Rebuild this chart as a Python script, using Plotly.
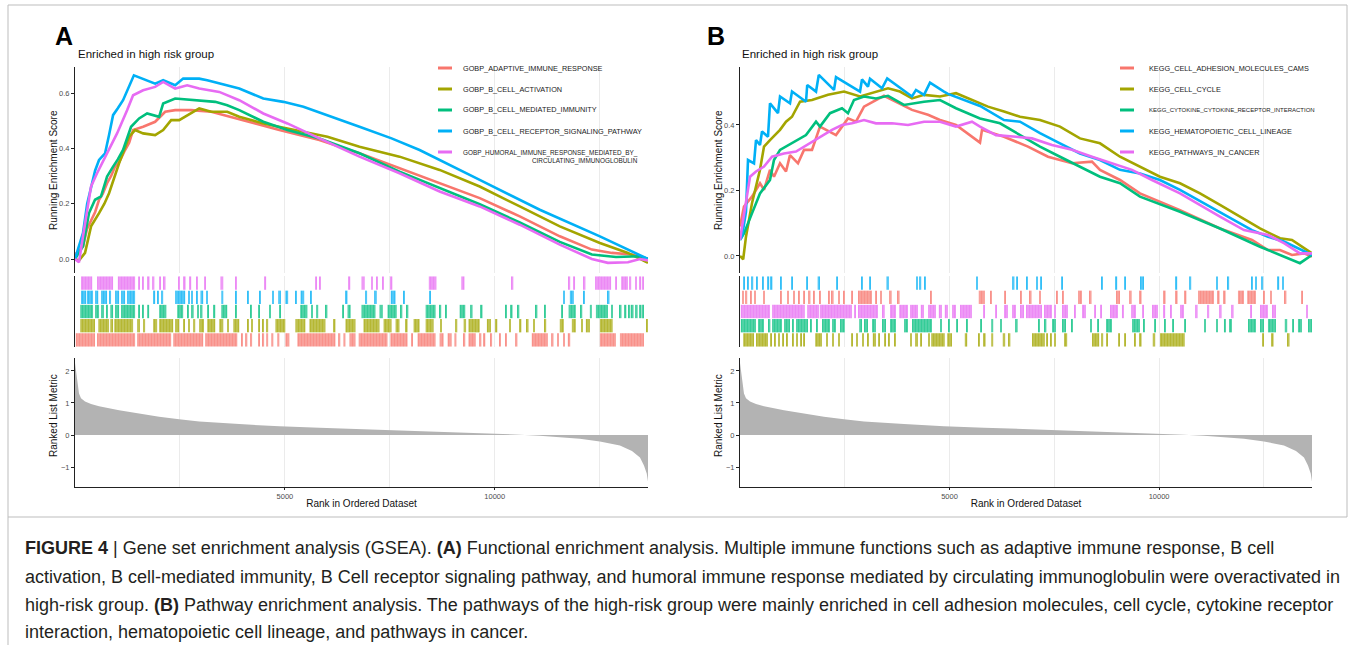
import plotly.graph_objects as go

W, H = 1355, 645

# ---------------- data ----------------
N_GENES = 13650
x_tick_vals = [5000, 10000]
x_minor_vals = [2500, 7500, 12500]

metric_rank = [0, 48, 95, 143, 239, 382, 573, 1050, 1527, 2004, 2482, 2959, 3913, 4868, 5822,
               6777, 7731, 8686, 9641, 10595, 11072, 11549, 12027, 12504, 12981, 13268, 13459,
               13554, 13620, 13650]
metric_value = [2.25, 1.7, 1.3, 1.15, 1.05, 0.97, 0.9, 0.77, 0.66, 0.57, 0.49, 0.42, 0.34, 0.27,
                0.23, 0.19, 0.15, 0.10, 0.06, 0.01, -0.02, -0.06, -0.12, -0.2, -0.33, -0.5, -0.7,
                -0.95, -1.2, -1.45]

# ---- panel A: GO biological process sets ----
a_names = ["GOBP_ADAPTIVE_IMMUNE_RESPONSE", "GOBP_B_CELL_ACTIVATION",
           "GOBP_B_CELL_MEDIATED_IMMUNITY", "GOBP_B_CELL_RECEPTOR_SIGNALING_PATHWAY",
           "GOBP_HUMORAL_IMMUNE_RESPONSE_MEDIATED_BY_CIRCULATING_IMMUNOGLOBULIN"]

a_adaptive_rank = [0, 191, 290, 382, 480, 573, 660, 764, 860, 955, 1050, 1193, 1290, 1384, 1623,
                   1909, 2148, 2386, 2768, 3245, 3723, 4295, 4868, 5345, 5822, 6777, 7731, 8686,
                   9641, 10595, 11549, 12313, 12790, 13268, 13650]
a_adaptive_es = [0.016, 0.046, 0.11, 0.142, 0.17, 0.214, 0.235, 0.274, 0.3, 0.334, 0.35, 0.394,
                 0.42, 0.466, 0.478, 0.496, 0.532, 0.538, 0.538, 0.532, 0.514, 0.49, 0.466, 0.448,
                 0.43, 0.382, 0.328, 0.272, 0.22, 0.154, 0.082, 0.034, 0.022, 0.016, 0.0]

a_activation_rank = [0, 95, 239, 382, 573, 700, 811, 930, 1050, 1289, 1432, 1623, 1909, 2100, 2291,
                     2482, 2673, 2959, 3245, 3627, 3913, 4486, 5059, 5632, 6013, 6777, 7731, 8686,
                     9641, 10595, 11549, 12504, 13172, 13650]
a_activation_es = [0.0, -0.005, 0.022, 0.118, 0.166, 0.2, 0.238, 0.29, 0.346, 0.442, 0.466, 0.454,
                   0.448, 0.466, 0.502, 0.502, 0.52, 0.544, 0.532, 0.532, 0.514, 0.49, 0.472, 0.454,
                   0.442, 0.406, 0.37, 0.322, 0.262, 0.19, 0.118, 0.058, 0.022, -0.014]

a_mediated_rank = [0, 191, 334, 477, 620, 764, 907, 1020, 1145, 1336, 1527, 1718, 2004, 2100, 2386,
                   2673, 2959, 3341, 3627, 3913, 4486, 5059, 5822, 6777, 7731, 8686, 9641, 10595,
                   11549, 12313, 12886, 13459, 13650]
a_mediated_es = [0.0, 0.046, 0.166, 0.214, 0.226, 0.298, 0.334, 0.36, 0.394, 0.478, 0.508, 0.526,
                 0.514, 0.562, 0.58, 0.576, 0.574, 0.568, 0.556, 0.538, 0.496, 0.466, 0.436, 0.382,
                 0.316, 0.256, 0.198, 0.132, 0.062, 0.016, 0.007, 0.01, 0.0]

a_bcr_rank = [0, 191, 290, 382, 480, 573, 716, 811, 907, 1020, 1145, 1403, 1909, 2100, 2386, 2577,
              2959, 3150, 3484, 3913, 4486, 4963, 5441, 6013, 6777, 7541, 8209, 9641, 11072, 12504,
              13459, 13650]
a_bcr_es = [0.0, 0.094, 0.2, 0.262, 0.32, 0.358, 0.382, 0.448, 0.52, 0.545, 0.574, 0.664, 0.634,
            0.646, 0.628, 0.652, 0.652, 0.646, 0.634, 0.616, 0.58, 0.568, 0.55, 0.52, 0.478, 0.436,
            0.394, 0.286, 0.178, 0.082, 0.016, 0.0]

a_humoral_rank = [0, 95, 191, 382, 525, 764, 1002, 1241, 1384, 1623, 1909, 2100, 2386, 2673, 2959,
                  3436, 3913, 4486, 5059, 5822, 6777, 7731, 8686, 9641, 10595, 11549, 12313, 12695,
                  13172, 13459, 13650]
a_humoral_es = [0.0, -0.012, 0.082, 0.262, 0.31, 0.382, 0.454, 0.538, 0.592, 0.61, 0.622, 0.64,
                0.616, 0.628, 0.616, 0.604, 0.574, 0.526, 0.49, 0.436, 0.37, 0.31, 0.244, 0.19,
                0.124, 0.052, 0.0, -0.014, -0.012, 0.0, -0.005]

# hit positions (rank intervals) for each gene set, panel A
a_humoral_hits = [(143, 410), (525, 907), (1021, 1432), (1508, 1546), (1604, 1642), (1737, 1775),
                  (1852, 1890), (2004, 2043), (2119, 2157), (2463, 2501), (2596, 2634), (2739, 2768),
                  (2892, 2921), (3073, 3102), (3465, 3532), (3828, 3856), (4524, 4553), (5727, 5756),
                  (5822, 5851), (6519, 6557), (6825, 6901), (7054, 7092), (7178, 7216), (7321, 7350),
                  (7521, 7560), (8428, 8610), (9201, 9278), (10404, 10442), (11759, 11797),
                  (11874, 11912), (12122, 12160), (12389, 12771), (12867, 12905), (13010, 13172),
                  (13220, 13249), (13344, 13382), (13459, 13488), (13516, 13554)]
a_bcr_hits = [(143, 267), (286, 430), (477, 554), (620, 764), (811, 859), (955, 1050), (1098, 1193),
              (1241, 1432), (1880, 1909), (1957, 1985), (2071, 2100), (2386, 2625), (2692, 2739),
              (2768, 2806), (2883, 2930), (2988, 3054), (3131, 3159), (3484, 3532), (3818, 3856),
              (4104, 4133), (4391, 4419), (4696, 4734), (4839, 4906), (5011, 5078), (5250, 5278),
              (5374, 5460), (5603, 5641), (6452, 6491), (6930, 6958), (7140, 7187), (7522, 7636),
              (7827, 7855), (8447, 8476), (11645, 11673), (11788, 11884), (12103, 12141), (12695, 12733)]
a_mediated_hits = [(124, 430), (477, 573), (620, 687), (745, 783), (840, 907), (955, 1050),
                   (1098, 1432), (1508, 1546), (1604, 1642), (1718, 1766), (2004, 2176), (2434, 2577),
                   (2673, 2711), (2787, 2825), (2911, 2949), (2997, 3035), (3150, 3188), (3303, 3341),
                   (3484, 3627), (3818, 3856), (4171, 4200), (4372, 4400), (4629, 4667), (4868, 4906),
                   (5364, 5536), (5632, 5670), (5746, 5794), (5966, 6013), (6367, 6405), (6491, 6567),
                   (6825, 7159), (7254, 7331), (7445, 7665), (7760, 7798), (7903, 7941), (8352, 8591),
                   (8686, 8724), (8829, 8858), (9163, 9297), (9430, 9469), (9669, 9707), (10261, 10290),
                   (10385, 10423), (10547, 10585), (10977, 11015), (11187, 11215), (11578, 11607),
                   (11759, 11931), (12046, 12084), (12265, 12313), (12409, 12695), (12771, 12809),
                   (12981, 13019), (13096, 13134), (13191, 13229), (13268, 13306), (13363, 13401),
                   (13459, 13497), (13525, 13554)]
a_activation_hits = [(124, 477), (554, 811), (840, 907), (935, 1384), (1479, 1546), (1642, 1670),
                     (1861, 1957), (2004, 2339), (2386, 2482), (2577, 2615), (2701, 2739), (2816, 2864),
                     (2959, 3073), (3150, 3341), (3436, 3532), (3627, 3665), (3770, 3913), (4104, 4133),
                     (4200, 4238), (4372, 4400), (4458, 4496), (4562, 4601), (4773, 5011), (5250, 5488),
                     (5584, 5966), (6157, 6204), (6443, 6682), (6872, 7254), (7350, 7541), (7636, 7731),
                     (7875, 7922), (8065, 8209), (8352, 8543), (8705, 8743), (9068, 9106), (9259, 9316),
                     (9373, 9641), (9812, 9908), (10022, 10060), (10356, 10385), (10595, 10633),
                     (10767, 10805), (10929, 10958), (11187, 11225), (11549, 11645), (11836, 11931),
                     (12055, 12094), (12170, 12265), (12504, 12809), (13610, 13650)]
a_adaptive_hits = [(19, 477), (525, 1432), (1479, 2291), (2339, 3054), (3102, 3866), (3961, 3990),
                   (4057, 4104), (4171, 4219), (4372, 4400), (4458, 4505), (4553, 4601), (4677, 4725),
                   (4820, 4868), (5011, 5107), (5297, 6204), (6281, 6319), (6395, 6443), (6538, 6682),
                   (6758, 7445), (7512, 7922), (8018, 8047), (8161, 8591), (8686, 8781), (8877, 8972),
                   (9039, 9087), (9259, 9297), (9373, 9545), (9641, 9679), (9736, 9774), (9908, 9936),
                   (10118, 10146), (10261, 10290), (10500, 10538), (10881, 11263), (11359, 11397),
                   (11502, 11530), (11645, 11673), (11740, 11797), (12504, 12886), (12981, 13554)]

# ---- panel B: KEGG pathways ----
b_names = ["KEGG_CELL_ADHESION_MOLECULES_CAMS", "KEGG_CELL_CYCLE",
           "KEGG_CYTOKINE_CYTOKINE_RECEPTOR_INTERACTION", "KEGG_HEMATOPOIETIC_CELL_LINEAGE",
           "KEGG_PATHWAYS_IN_CANCER"]

b_cams_rank = [0, 95, 286, 477, 573, 716, 811, 955, 1098, 1193, 1384, 1527, 1718, 1909, 2291, 2577,
               2768, 2959, 3245, 3436, 3723, 4104, 4486, 4773, 5154, 5727, 5775, 6300, 6872, 7350,
               7922, 8400, 8591, 9068, 9545, 10500, 11454, 12218, 12599, 12886, 13172, 13459, 13650]
b_cams_es = [0.09, 0.151, 0.181, 0.222, 0.202, 0.263, 0.242, 0.283, 0.258, 0.308, 0.283, 0.324,
             0.324, 0.395, 0.369, 0.42, 0.41, 0.456, 0.476, 0.489, 0.471, 0.446, 0.431, 0.415, 0.4,
             0.346, 0.385, 0.364, 0.334, 0.303, 0.283, 0.288, 0.263, 0.232, 0.191, 0.14, 0.084,
             0.049, 0.018, 0.018, 0.003, 0.008, -0.002]

b_cycle_rank = [0, 76, 143, 286, 477, 573, 716, 955, 1098, 1241, 1432, 1718, 2100, 2482, 2864, 3245,
                3532, 3818, 4104, 4391, 4773, 5154, 5536, 5918, 6300, 6682, 7159, 7636, 8113, 8591,
                9068, 9545, 10022, 10500, 10977, 11454, 11931, 12409, 12886, 13172, 13650]
b_cycle_es = [0.0, -0.01, 0.059, 0.161, 0.263, 0.334, 0.354, 0.385, 0.41, 0.425, 0.471, 0.476,
              0.492, 0.502, 0.487, 0.502, 0.512, 0.502, 0.481, 0.492, 0.487, 0.497, 0.476, 0.456,
              0.441, 0.425, 0.415, 0.395, 0.359, 0.344, 0.303, 0.273, 0.242, 0.222, 0.191, 0.156,
              0.12, 0.084, 0.054, 0.049, 0.008]

b_cytokine_rank = [0, 95, 286, 477, 716, 811, 955, 1241, 1575, 1814, 1909, 2148, 2434, 2577, 2720,
                   2959, 3245, 3532, 3913, 4391, 4773, 5154, 5727, 6204, 6682, 7159, 7636, 8113,
                   8591, 9068, 9545, 10500, 11454, 12409, 12790, 13172, 13363, 13650]
b_cytokine_es = [0.049, 0.069, 0.13, 0.191, 0.232, 0.293, 0.324, 0.344, 0.369, 0.41, 0.395, 0.436,
                 0.451, 0.436, 0.476, 0.487, 0.481, 0.489, 0.461, 0.471, 0.476, 0.451, 0.42, 0.405,
                 0.369, 0.334, 0.303, 0.273, 0.242, 0.222, 0.181, 0.135, 0.084, 0.028, 0.008,
                 -0.012, -0.022, 0.003]

b_hemato_rank = [0, 48, 143, 191, 334, 382, 477, 525, 668, 716, 907, 955, 1193, 1241, 1575, 1604,
                 1814, 1880, 2243, 2291, 2864, 2911, 3054, 3102, 3389, 3513, 4104, 4200, 4391, 4534,
                 4868, 4963, 5727, 6300, 6682, 7159, 7636, 8113, 8591, 9068, 9545, 10022, 10500,
                 11454, 12218, 12599, 12981, 13650]
b_hemato_es = [0.049, 0.059, 0.135, 0.293, 0.283, 0.354, 0.339, 0.38, 0.364, 0.466, 0.436, 0.487,
               0.466, 0.502, 0.471, 0.522, 0.502, 0.553, 0.507, 0.546, 0.502, 0.539, 0.517, 0.541,
               0.512, 0.542, 0.487, 0.507, 0.492, 0.529, 0.502, 0.495, 0.458, 0.415, 0.41, 0.375,
               0.344, 0.313, 0.293, 0.263, 0.252, 0.232, 0.202, 0.135, 0.079, 0.059, 0.044, 0.003]

b_cancer_rank = [0, 95, 239, 382, 573, 764, 1050, 1336, 1527, 1718, 1909, 2195, 2434, 2673, 2959,
                 3245, 3627, 4009, 4391, 4773, 5154, 5536, 5727, 6109, 6586, 6968, 7445, 7922, 8400,
                 8877, 9354, 9832, 10500, 11454, 12027, 12599, 12981, 13363, 13650]
b_cancer_es = [0.049, 0.13, 0.242, 0.258, 0.273, 0.303, 0.313, 0.319, 0.334, 0.349, 0.364, 0.385,
               0.4, 0.405, 0.415, 0.405, 0.405, 0.4, 0.41, 0.41, 0.395, 0.41, 0.395, 0.369, 0.364,
               0.359, 0.339, 0.324, 0.303, 0.283, 0.263, 0.232, 0.191, 0.12, 0.079, 0.064, 0.039,
               0.008, 0.008]

b_hemato_hits = [(76, 115), (172, 210), (286, 315), (382, 410), (525, 554), (668, 697), (735, 773),
                 (955, 983), (1222, 1250), (1584, 1623), (1852, 1909), (2291, 2319), (2892, 2930),
                 (3083, 3112), (3494, 3551), (4219, 4248), (4295, 4324), (4391, 4419), (5651, 5679),
                 (6510, 6548), (6605, 6634), (6825, 6853), (7083, 7111), (7159, 7187), (7665, 7693),
                 (8619, 8648), (8972, 9001), (9182, 9211), (9545, 9641), (10404, 10433), (10738, 10767),
                 (11359, 11387), (11645, 11673), (12199, 12237), (12294, 12332), (12456, 12485),
                 (12838, 12867), (12934, 12963)]
b_cams_hits = [(48, 95), (143, 172), (239, 267), (334, 382), (554, 592), (955, 1002), (1126, 1164),
               (1270, 1308), (1384, 1422), (1508, 1546), (1642, 1680), (1747, 1785), (1890, 1928),
               (2100, 2138), (2195, 2234), (2339, 2377), (2463, 2501), (2654, 2692), (2816, 3150),
               (3226, 3264), (3341, 3379), (3579, 3618), (3770, 3809), (4534, 4572), (5698, 5842),
               (5966, 5994), (6319, 6347), (6682, 6720), (6920, 6958), (7140, 7178), (7541, 7579),
               (7684, 7722), (8066, 8161), (8352, 8390), (8972, 9068), (9306, 9345), (9545, 9583),
               (10118, 10156), (10404, 10442), (10614, 10652), (10929, 11311), (11406, 11444),
               (11549, 11588), (11883, 12027), (12103, 12313), (12485, 12523), (12647, 12695),
               (13001, 13039), (13392, 13430)]
b_cancer_hits = [(19, 716), (764, 1546), (1604, 1890), (1909, 2673), (2720, 2768), (2816, 3293),
                 (3389, 3455), (3579, 3723), (3799, 4009), (4057, 4248), (4314, 4391), (4486, 4677),
                 (4744, 4820), (4887, 4963), (5059, 5154), (5250, 5536), (5803, 5842), (6090, 6128),
                 (6300, 6395), (6491, 6586), (6682, 6777), (6825, 7207), (7254, 7445), (7493, 7541),
                 (7684, 7827), (7970, 8018), (8161, 8256), (8447, 8495), (8591, 8619), (8829, 9020),
                 (9115, 9163), (9335, 9450), (9593, 9641), (9832, 9975), (10099, 10146), (10261, 10309),
                 (10500, 10595), (10881, 10919), (11168, 11196), (11454, 11492), (11740, 11778),
                 (12170, 12218), (12409, 12599), (12695, 12790), (13506, 13554)]
b_cytokine_hits = [(19, 382), (430, 573), (668, 725), (764, 1002), (1050, 1193), (1241, 1289),
                   (1336, 1623), (1670, 1718), (1814, 1861), (1957, 2148), (2195, 2291), (2386, 2501),
                   (2844, 2911), (2959, 3054), (3150, 3245), (3389, 3484), (3579, 3723), (3913, 4009),
                   (4104, 4582), (4773, 4820), (4963, 5011), (5154, 5202), (5393, 5441), (5727, 5775),
                   (5994, 6042), (6204, 6252), (6586, 6624), (7111, 7159), (7273, 7311), (7445, 7541),
                   (7684, 7779), (7903, 7941), (8352, 8400), (8524, 8562), (8734, 8877), (9354, 9545),
                   (9621, 9659), (9879, 9927), (10118, 10166), (10309, 10356), (10595, 10643),
                   (11072, 11120), (11359, 11387), (11549, 11597), (11693, 11740), (12122, 12313),
                   (12409, 12504), (12599, 12790), (13001, 13058), (13172, 13220), (13315, 13411),
                   (13554, 13650)]
b_cycle_hits = [(76, 334), (382, 668), (716, 764), (811, 859), (907, 955), (1021, 1050), (1098, 1126),
                (1241, 1270), (1336, 1384), (1432, 1470), (1508, 1546), (1794, 1957), (2052, 2100),
                (2195, 2243), (2339, 2386), (2654, 2682), (2768, 2816), (2911, 2959), (3035, 3073),
                (3169, 3245), (3293, 3341), (3455, 3484), (3532, 3579), (3675, 3704), (4057, 4104),
                (4181, 4248), (4295, 4343), (4486, 4534), (4562, 4887), (4944, 5059), (5364, 5422),
                (5679, 5727), (5822, 5861), (5994, 6042), (6271, 6328), (6414, 6452), (6968, 7273),
                (7311, 7350), (7397, 7445), (7493, 7541), (7732, 7808), (8400, 8572), (8619, 8667),
                (8734, 8781), (9020, 9068), (9182, 9211), (9402, 9450), (9545, 9583), (9850, 9908),
                (10022, 10614), (12456, 12504), (12695, 12733), (13077, 13115)]

caption_lines = [
    "<b>FIGURE 4</b> | Gene set enrichment analysis (GSEA). <b>(A)</b> Functional enrichment analysis. "
    "Multiple immune functions such as adaptive immune response, B cell",
    "activation, B cell-mediated immunity, B Cell receptor signaling pathway, and humoral immune "
    "response mediated by circulating immunoglobulin were overactivated in",
    "high-risk group. <b>(B)</b> Pathway enrichment analysis. The pathways of the high-risk group were "
    "mainly enriched in cell adhesion molecules, cell cycle, cytokine receptor",
    "interaction, hematopoietic cell lineage, and pathways in cancer.",
]

# ---------------- styles ----------------
RED, OLIVE, GREEN, BLUE, PINK = "#F8766D", "#A3A500", "#00BF7D", "#00B0F6", "#E76BF3"
FONT = "Liberation Sans, Arial, Helvetica, sans-serif"
GRID = "#ebebeb"
AXIS = "#222222"
TICKC = "#4d4d4d"


def X(p):
    return p / W


def Y(p):
    return 1 - p / H


def tint(hexc, f=0.4):
    r, g, b = int(hexc[1:3], 16), int(hexc[3:5], 16), int(hexc[5:7], 16)
    r, g, b = [int(c + (255 - c) * f) for c in (r, g, b)]
    return f"rgb({r},{g},{b})"


fig = go.Figure()

panels = [
    dict(ax=("x", "y"), rug=("x2", "y2"), met=("x3", "y3"),
         curves=[(a_adaptive_rank, a_adaptive_es, RED), (a_activation_rank, a_activation_es, OLIVE),
                 (a_mediated_rank, a_mediated_es, GREEN), (a_bcr_rank, a_bcr_es, BLUE),
                 (a_humoral_rank, a_humoral_es, PINK)],
         rows=[(a_humoral_hits, PINK), (a_bcr_hits, BLUE), (a_mediated_hits, GREEN),
               (a_activation_hits, OLIVE), (a_adaptive_hits, RED)]),
    dict(ax=("x4", "y4"), rug=("x5", "y5"), met=("x6", "y6"),
         curves=[(b_cams_rank, b_cams_es, RED), (b_cycle_rank, b_cycle_es, OLIVE),
                 (b_cytokine_rank, b_cytokine_es, GREEN), (b_hemato_rank, b_hemato_es, BLUE),
                 (b_cancer_rank, b_cancer_es, PINK)],
         rows=[(b_hemato_hits, BLUE), (b_cams_hits, RED), (b_cancer_hits, PINK),
               (b_cytokine_hits, GREEN), (b_cycle_hits, OLIVE)]),
]

for p in panels:
    for xs, ys, c in p["curves"]:
        fig.add_trace(go.Scatter(x=xs, y=ys, mode="lines", line=dict(color=c, width=2.6),
                                 xaxis=p["ax"][0], yaxis=p["ax"][1], showlegend=False,
                                 hoverinfo="skip"))
    for i, (hits, c) in enumerate(p["rows"]):
        fig.add_trace(go.Bar(
            y=[i] * len(hits), x=[e - s for s, e in hits], base=[s for s, e in hits],
            orientation="h", width=0.94,
            marker=dict(color=tint(c), line=dict(width=0),
                        pattern=dict(shape="|", size=3, solidity=0.62, fgcolor=c,
                                     fillmode="overlay")),
            xaxis=p["rug"][0], yaxis=p["rug"][1], showlegend=False, hoverinfo="skip"))
    fig.add_trace(go.Scatter(x=metric_rank, y=metric_value, mode="lines",
                             line=dict(width=0, color="#b3b3b3"), fill="tozeroy",
                             fillcolor="#b3b3b3", xaxis=p["met"][0], yaxis=p["met"][1],
                             showlegend=False, hoverinfo="skip"))

# ---------------- axes ----------------
tickfont = dict(family=FONT, size=7.5, color=TICKC)
titlefont = dict(family=FONT, size=10, color="#111111")
common_x = dict(range=[0, N_GENES], showgrid=True, gridcolor=GRID, gridwidth=1,
                tickmode="array", tickvals=x_tick_vals, zeroline=False,
                minor=dict(tickmode="array", tickvals=x_minor_vals, showgrid=True,
                           gridcolor=GRID, gridwidth=1))
layout_axes = {}
x_domains = [(75, 648), (740, 1312)]
ytitle_x = [53, 718]
es_ranges = [[-0.0506, 0.694], [-0.052, 0.577]]
es_ticks = [[0, 0.2, 0.4, 0.6], [0, 0.2, 0.4]]
ann = []
for k, (x0, x1) in enumerate(x_domains):
    n = 3 * k
    dom = [X(x0), X(x1)]
    xa = lambda i: "xaxis" if i == 1 else f"xaxis{i}"
    ya = lambda i: "yaxis" if i == 1 else f"yaxis{i}"
    yid = lambda i: "y" if i == 1 else f"y{i}"
    layout_axes[xa(n + 1)] = dict(common_x, domain=dom, anchor=yid(n + 1), showticklabels=False,
                                   ticks="", showline=False)
    layout_axes[xa(n + 2)] = dict(common_x, domain=dom, anchor=yid(n + 2), showticklabels=False,
                                   ticks="", showline=False)
    layout_axes[xa(n + 3)] = dict(common_x, domain=dom, anchor=yid(n + 3), showticklabels=True,
                                   ticktext=["5000", "10000"], ticks="outside", ticklen=1.5,
                                   tickcolor=AXIS, showline=True, linecolor=AXIS, linewidth=1,
                                   tickfont=tickfont,
                                   title=dict(text="Rank in Ordered Dataset", font=titlefont,
                                              standoff=0))
    layout_axes[ya(n + 1)] = dict(domain=[Y(273), Y(67)], range=es_ranges[k], anchor=f"x{n+1}" if n else "x",
                                   tickmode="array", tickvals=es_ticks[k],
                                   ticktext=[f"{v:.1f}" for v in es_ticks[k]],
                                   ticks="outside", ticklen=3, tickcolor=AXIS, showline=True,
                                   linecolor=AXIS, linewidth=1, showgrid=False, zeroline=False,
                                   tickfont=tickfont)
    layout_axes[ya(n + 2)] = dict(domain=[Y(347), Y(276)], range=[4.5, -0.5], anchor=f"x{n+2}",
                                   showticklabels=False, ticks="", showline=True, linecolor=AXIS,
                                   linewidth=1, showgrid=False, zeroline=False)
    layout_axes[ya(n + 3)] = dict(domain=[Y(487), Y(358)], range=[-1.625, 2.406], anchor=f"x{n+3}",
                                   tickmode="array", tickvals=[-1, 0, 1, 2],
                                   ticks="outside", ticklen=3, tickcolor=AXIS, showline=True,
                                   linecolor=AXIS, linewidth=1, showgrid=False, zeroline=False,
                                   tickfont=tickfont)
    for txt, yc in [("Running Enrichment Score", 170), ("Ranked List Metric", 416)]:
        ann.append(dict(text=txt, x=X(ytitle_x[k]), y=Y(yc), xref="paper", yref="paper",
                        xanchor="center", yanchor="middle", textangle=-90, showarrow=False,
                        font=titlefont))

# ---------------- annotations / legends ----------------
shapes = []
for letter, lx, tx in [("A", 53, 76), ("B", 705, 740)]:
    ann.append(dict(text=f"<b>{letter}</b>", x=X(lx), y=Y(36), xref="paper", yref="paper",
                    xanchor="left", yanchor="middle", showarrow=False,
                    font=dict(family=FONT, size=25, color="#000000")))
    ann.append(dict(text="Enriched in high risk group", x=X(tx), y=Y(54), xref="paper",
                    yref="paper", xanchor="left", yanchor="middle", showarrow=False,
                    font=dict(family=FONT, size=11.5, color="#111111")))

legend_rows = [68, 89, 110, 131, 152]
leg_colors = [RED, OLIVE, GREEN, BLUE, PINK]
for names, sx0, sx1, tx in [(a_names, 438, 452, 461), (b_names, 1120, 1134, 1147)]:
    for i, name in enumerate(names):
        yy = legend_rows[i]
        shapes.append(dict(type="line", xref="paper", yref="paper", x0=X(sx0), x1=X(sx1),
                           y0=Y(yy), y1=Y(yy), line=dict(color=leg_colors[i], width=3)))
        size = 7.3
        text = name
        yanchor_y = yy
        if len(name) > 45:
            size = 6.4
            cut = name.index("CIRCULATING")
            text = name[:cut] + "<br>" + name[cut:]
            yanchor_y = yy + 4.5
        elif len(name) > 38:
            size = 6.0
        ann.append(dict(text=text, x=X(tx), y=Y(yanchor_y), xref="paper", yref="paper",
                        xanchor="left", yanchor="middle", align="right", showarrow=False,
                        font=dict(family=FONT, size=size, color="#1a1a1a")))

cap_y = [548, 577, 605, 632]
for line, yy in zip(caption_lines, cap_y):
    ann.append(dict(text=line, x=X(23), y=Y(yy), xref="paper", yref="paper", xanchor="left",
                    yanchor="middle", showarrow=False,
                    font=dict(family=FONT, size=18, color="#231f20")))

frame = "#bdbdbd"
shapes += [
    dict(type="rect", xref="paper", yref="paper", x0=X(8), x1=X(1347), y0=Y(517), y1=Y(5),
         line=dict(color=frame, width=1), fillcolor="rgba(0,0,0,0)", layer="below"),
    dict(type="line", xref="paper", yref="paper", x0=X(8), x1=X(8), y0=Y(517), y1=Y(645),
         line=dict(color=frame, width=1)),
]

fig.update_layout(
    width=W, height=H, margin=dict(l=0, r=0, t=0, b=0, autoexpand=False),
    paper_bgcolor="white", plot_bgcolor="white", barmode="overlay",
    font=dict(family=FONT, color="#111111"), showlegend=False,
    annotations=ann, shapes=shapes, **layout_axes)

fig.write_html("out.html", include_plotlyjs=True, config=dict(displayModeBar=False))
